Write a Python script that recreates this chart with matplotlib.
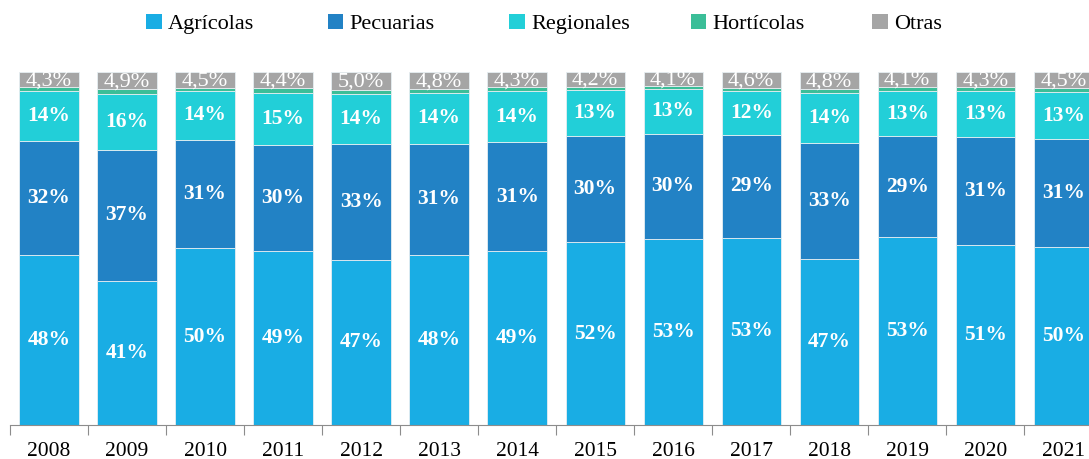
import matplotlib.pyplot as plt
import numpy as np
from matplotlib.patches import Patch

plt.rcParams['font.family'] = ['Liberation Serif', 'DejaVu Serif']

years = ['2008', '2009', '2010', '2011', '2012', '2013', '2014',
         '2015', '2016', '2017', '2018', '2019', '2020', '2021']
agricolas = [48.2, 40.9, 50.1, 49.2, 46.8, 48.3, 49.3, 51.8, 52.7, 53.0, 47.1, 53.2, 51.1, 50.3]
pecuarias = [32.2, 37.0, 30.6, 30.0, 32.9, 31.4, 30.8, 30.1, 29.8, 29.3, 32.9, 28.6, 30.6, 30.6]
regionales = [14.3, 16.0, 14.0, 15.0, 14.2, 14.3, 14.4, 13.1, 12.7, 12.2, 14.1, 12.9, 13.0, 13.4]
horticolas = [1.0, 1.2, 0.8, 1.4, 1.1, 1.2, 1.2, 0.8, 0.8, 0.9, 1.1, 1.2, 1.0, 1.2]
otras = [4.3, 4.9, 4.5, 4.4, 5.0, 4.8, 4.3, 4.2, 4.1, 4.6, 4.8, 4.1, 4.3, 4.5]

series = [
    ('Agrícolas', agricolas, '#19ADE4'),
    ('Pecuarias', pecuarias, '#2282C5'),
    ('Regionales', regionales, '#22CFD8'),
    ('Hortícolas', horticolas, '#3BBE98'),
    ('Otras', otras, '#A5A5A5'),
]

fig = plt.figure(figsize=(10.89, 4.59), dpi=100)
ax = fig.add_axes([0.0092, 0.074, 1.003, 0.769])

x = np.arange(len(years))
bottom = np.zeros(len(years))
for name, vals, col in series:
    vals = np.array(vals)
    ax.bar(x, vals, 0.76, bottom=bottom, color=col, edgecolor='#E6EEF2', linewidth=0.6)
    for xi, b, v in zip(x, bottom, vals):
        if name in ('Agrícolas', 'Pecuarias', 'Regionales'):
            ax.text(xi, b + v / 2, f'{v:.0f}%', ha='center', va='center',
                    color='white', fontsize=15.5, fontweight='bold')
        elif name == 'Otras':
            ax.text(xi, b + v / 2 - 0.3, f'{v:.1f}%'.replace('.', ','), ha='center', va='center',
                    color='white', fontsize=16)
    bottom += vals

ax.set_xlim(-0.5, len(years) - 0.5)
ax.set_ylim(0, 100)
ax.set_yticks([])
for s in ['left', 'right', 'top']:
    ax.spines[s].set_visible(False)
ax.spines['bottom'].set_color('#8C8C8C')
ax.set_xticks(x - 0.5, minor=False)
ax.set_xticklabels([])
ax.tick_params(axis='x', length=7, color='#8C8C8C', direction='out')
ax.set_xticks(x, minor=True)
ax.set_xticklabels(years, minor=True)
ax.tick_params(axis='x', which='minor', length=0, pad=12, labelsize=15.5)

# legend entries evenly spaced, one small legend per series
for i, (name, _, col) in enumerate(series):
    leg = fig.legend(handles=[Patch(facecolor=col, label=name)], loc='upper left',
                     bbox_to_anchor=((146 + i * 181.5) / 1089, 0.97),
                     frameon=False, fontsize=16, handlelength=0.7, handleheight=0.7,
                     handletextpad=0.3, borderpad=0, borderaxespad=0)

fig.savefig('out.png', dpi=100)
